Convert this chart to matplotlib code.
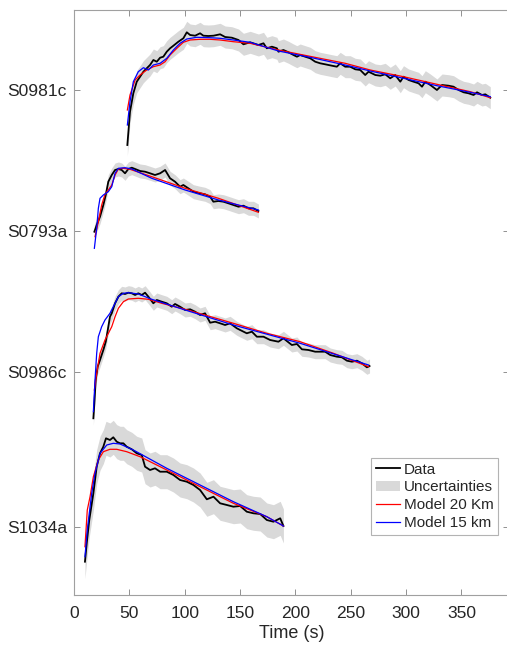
import matplotlib
matplotlib.use("Agg")
import matplotlib.pyplot as plt
from matplotlib.patches import Patch
from matplotlib.lines import Line2D
import numpy as np

plt.rcParams['font.family'] = ['Liberation Sans', 'DejaVu Sans']

stations = ["S0981c", "S0793a", "S0986c", "S1034a"]
offsets = [4.37, 2.96, 1.55, 0.0]
sigma = [0.11, 0.07, 0.07, 0.17]

# ---- S0981c ----
t_d_0981 = [48.2, 50.6, 53.6, 56.7, 59.7, 62.7, 65.7, 68.7, 71.7, 74.8, 77.8, 80.7, 83.8, 86.8, 89.8,
            94.3, 98.8, 101.9, 104.9, 109.4, 113.9, 116.9, 121.4, 126.0, 132.0, 136.5, 142.6, 148.6,
            153.1, 159.1, 166.6, 171.2, 174.2, 178.8, 183.3, 184.7, 189.2, 193.8, 198.3, 201.4, 204.3,
            208.9, 213.4, 217.9, 222.4, 226.9, 233.0, 237.5, 240.5, 245.0, 249.5, 254.1, 258.6, 263.1,
            266.1, 272.2, 276.7, 281.2, 285.7, 290.2, 294.8, 297.7, 302.3, 306.8, 311.3, 314.4, 317.4,
            321.9, 327.9, 332.5, 338.4, 342.9, 347.5, 352.0, 356.5, 361.0, 364.1, 368.6, 371.6, 376.1]
a_d_0981 = [-0.55, -0.217, -0.033, 0.083, 0.133, 0.183, 0.217, 0.25, 0.30, 0.283, 0.323, 0.333, 0.383,
            0.417, 0.443, 0.483, 0.517, 0.577, 0.55, 0.543, 0.567, 0.543, 0.54, 0.543, 0.557, 0.53,
            0.523, 0.50, 0.457, 0.477, 0.45, 0.467, 0.417, 0.433, 0.417, 0.383, 0.40, 0.377, 0.35,
            0.333, 0.35, 0.333, 0.317, 0.283, 0.267, 0.257, 0.243, 0.233, 0.267, 0.233, 0.233, 0.207,
            0.20, 0.15, 0.183, 0.15, 0.143, 0.157, 0.117, 0.15, 0.083, 0.133, 0.10, 0.083, 0.067,
            0.033, 0.083, 0.05, 0.0, 0.05, 0.043, 0.033, 0.0, -0.023, -0.033, -0.05, -0.023, -0.05,
            -0.043, -0.077]
t_r_0981 = [48.2, 50.6, 55.2, 59.7, 65.7, 71.7, 77.8, 82.3, 86.8, 92.9, 98.8, 104.9, 113.9, 123.0,
            132.0, 144.0, 159.1, 184.7, 214.9, 245.0, 267.6, 297.7, 327.9, 358.0, 376.1]
a_r_0981 = [-0.20, -0.05, 0.10, 0.15, 0.20, 0.233, 0.25, 0.283, 0.35, 0.417, 0.477, 0.50, 0.507, 0.507,
            0.50, 0.483, 0.467, 0.40, 0.333, 0.267, 0.20, 0.133, 0.057, -0.017, -0.077]
t_b_0981 = [48.2, 50.6, 53.6, 58.1, 62.7, 67.2, 71.7, 77.8, 83.8, 89.8, 95.8, 101.9, 110.9, 123.0,
            132.0, 144.0, 159.1, 184.7, 214.9, 245.0, 267.6, 297.7, 327.9, 358.0, 376.1]
a_b_0981 = [-0.35, -0.117, 0.083, 0.183, 0.223, 0.20, 0.25, 0.267, 0.317, 0.40, 0.467, 0.51, 0.527,
            0.523, 0.517, 0.50, 0.477, 0.39, 0.323, 0.25, 0.19, 0.117, 0.043, -0.023, -0.067]

# ---- S0793a ----
t_d_0793 = [18.4, 20.5, 23.5, 26.5, 28.7, 31.0, 34.1, 37.1, 40.1, 43.1, 46.1, 49.1, 52.2, 55.2, 59.7,
            64.2, 68.7, 73.2, 77.8, 82.3, 86.8, 91.3, 95.8, 98.8, 103.3, 107.9, 113.9, 118.4, 123.0,
            125.9, 130.5, 135.0, 139.5, 144.0, 148.6, 153.1, 157.6, 162.1, 166.6]
a_d_0793 = [-0.007, 0.06, 0.143, 0.26, 0.36, 0.493, 0.56, 0.61, 0.62, 0.61, 0.577, 0.62, 0.633, 0.62,
            0.60, 0.593, 0.577, 0.56, 0.577, 0.61, 0.527, 0.493, 0.443, 0.46, 0.427, 0.393, 0.377,
            0.367, 0.343, 0.293, 0.30, 0.293, 0.277, 0.26, 0.243, 0.253, 0.227, 0.227, 0.20]
t_r_0793 = [19.0, 22.0, 25.0, 28.0, 31.0, 34.1, 37.1, 40.1, 44.6, 50.6, 70.3, 100.4, 130.5, 166.6]
a_r_0793 = [-0.057, 0.093, 0.26, 0.367, 0.41, 0.46, 0.56, 0.62, 0.627, 0.617, 0.543, 0.427, 0.327, 0.187]
t_b_0793 = [18.4, 20.5, 22.0, 23.5, 26.5, 31.0, 34.1, 37.1, 40.1, 46.1, 52.2, 70.3, 100.4, 130.5, 166.6]
a_b_0793 = [-0.173, 0.027, 0.227, 0.327, 0.36, 0.393, 0.443, 0.577, 0.627, 0.633, 0.62, 0.527, 0.41,
            0.31, 0.21]

# ---- S0986c ----
t_d_0986 = [17.5, 18.4, 19.6, 21.4, 23.5, 26.5, 28.7, 30.5, 32.5, 34.1, 37.1, 40.1, 43.1, 46.1, 49.1,
            52.2, 55.2, 58.1, 61.2, 64.2, 67.2, 71.7, 74.8, 79.3, 83.8, 88.3, 91.3, 95.8, 100.4, 104.9,
            109.4, 113.9, 118.4, 123.0, 127.5, 132.0, 136.5, 141.0, 147.1, 150.1, 156.1, 160.7, 165.2,
            171.2, 177.2, 184.7, 189.2, 196.8, 201.4, 205.9, 211.8, 217.9, 226.9, 231.5, 237.5, 242.0,
            246.6, 251.1, 255.6, 260.1, 264.6, 267.0]
a_d_0986 = [-0.463, -0.313, -0.08, 0.053, 0.12, 0.22, 0.303, 0.42, 0.553, 0.587, 0.687, 0.753, 0.787,
            0.78, 0.793, 0.787, 0.77, 0.787, 0.77, 0.793, 0.753, 0.687, 0.72, 0.703, 0.687, 0.653, 0.68,
            0.653, 0.62, 0.627, 0.603, 0.57, 0.587, 0.493, 0.503, 0.487, 0.47, 0.487, 0.437, 0.42,
            0.387, 0.403, 0.353, 0.353, 0.32, 0.303, 0.337, 0.27, 0.28, 0.227, 0.22, 0.203, 0.203,
            0.17, 0.153, 0.147, 0.113, 0.103, 0.113, 0.087, 0.047, 0.06]
t_r_0986 = [18.4, 20.5, 23.5, 28.0, 34.1, 37.1, 40.1, 44.6, 49.1, 58.1, 67.2, 79.3, 100.4, 144.0,
            174.2, 204.3, 234.4, 266.1]
a_r_0986 = [-0.18, -0.013, 0.187, 0.32, 0.453, 0.553, 0.637, 0.703, 0.73, 0.737, 0.727, 0.687, 0.627,
            0.487, 0.387, 0.303, 0.187, 0.053]
t_b_0986 = [17.5, 19.0, 20.5, 22.0, 25.0, 28.0, 32.5, 37.1, 40.1, 44.6, 49.1, 58.1, 70.3, 100.4,
            144.0, 204.3, 266.1]
a_b_0986 = [-0.397, -0.08, 0.187, 0.353, 0.453, 0.52, 0.587, 0.687, 0.753, 0.787, 0.793, 0.78, 0.727,
            0.62, 0.47, 0.287, 0.07]

# ---- S1034a ----
t_d_1034 = [9.9, 11.5, 13.8, 17.5, 20.5, 23.5, 26.5, 28.9, 32.5, 35.5, 38.6, 41.6, 44.6, 47.6, 52.2,
            56.7, 61.2, 64.2, 68.7, 73.2, 77.8, 83.8, 89.8, 95.8, 101.9, 107.9, 113.9, 120.0, 126.0,
            132.0, 138.1, 144.0, 150.1, 156.1, 162.1, 168.2, 174.2, 180.2, 186.3, 189.2]
a_d_1034 = [-0.347, -0.163, 0.07, 0.337, 0.603, 0.737, 0.803, 0.887, 0.87, 0.897, 0.853, 0.837, 0.837,
            0.803, 0.777, 0.737, 0.72, 0.603, 0.57, 0.587, 0.553, 0.553, 0.52, 0.47, 0.453, 0.42,
            0.37, 0.277, 0.303, 0.237, 0.22, 0.203, 0.21, 0.153, 0.137, 0.13, 0.07, 0.053, 0.087, 0.01]
t_r_1034 = [9.9, 12.0, 14.5, 17.5, 22.0, 26.5, 32.5, 38.6, 47.6, 59.7, 83.8, 113.9, 144.0, 174.2, 189.2]
a_r_1034 = [-0.197, 0.17, 0.303, 0.503, 0.67, 0.753, 0.777, 0.777, 0.753, 0.703, 0.57, 0.403, 0.237,
            0.103, 0.01]
t_b_1034 = [9.9, 12.0, 16.0, 19.0, 23.5, 29.6, 35.5, 41.6, 53.6, 83.8, 113.9, 144.0, 174.2, 189.2]
a_b_1034 = [-0.297, -0.03, 0.337, 0.537, 0.737, 0.82, 0.837, 0.83, 0.77, 0.587, 0.42, 0.253, 0.103, 0.01]

data_t = [t_d_0981, t_d_0793, t_d_0986, t_d_1034]
data_a = [a_d_0981, a_d_0793, a_d_0986, a_d_1034]
red_t = [t_r_0981, t_r_0793, t_r_0986, t_r_1034]
red_a = [a_r_0981, a_r_0793, a_r_0986, a_r_1034]
blue_t = [t_b_0981, t_b_0793, t_b_0986, t_b_1034]
blue_a = [a_b_0981, a_b_0793, a_b_0986, a_b_1034]

W, H = 507, 645
fig = plt.figure(figsize=(W / 100, H / 100), dpi=100)
ax = fig.add_axes([74 / W, 50 / H, 435 / W, 585.5 / H])

band_color = '#d9d9d9'
for i in range(4):
    td = np.array(data_t[i]); ad = np.array(data_a[i]) + offsets[i]
    ax.fill_between(td, ad - sigma[i], ad + sigma[i], color=band_color, lw=0, zorder=1)
for i in range(4):
    td = np.array(data_t[i]); ad = np.array(data_a[i]) + offsets[i]
    ax.plot(td, ad, color='black', lw=1.3, zorder=2)
    ax.plot(red_t[i], np.array(red_a[i]) + offsets[i], color='#ff0000', lw=0.9, zorder=3)
    ax.plot(blue_t[i], np.array(blue_a[i]) + offsets[i], color='#0000ff', lw=0.9, zorder=4)

ax.set_xlim(0, 393)
ax.set_ylim(-0.68, 5.175)
ax.set_xticks([0, 50, 100, 150, 200, 250, 300, 350])
ax.set_yticks(offsets)
ax.set_yticklabels(stations)
ax.tick_params(direction='in', length=4, width=0.6, color='#808080', labelcolor='#262626',
               labelsize=12.6, top=True, right=True)
ax.tick_params(axis='x', pad=8)
ax.tick_params(axis='y', pad=5)
for s in ax.spines.values():
    s.set_color('#a0a0a0')
    s.set_linewidth(0.8)
ax.set_xlabel('Time (s)', fontsize=13, color='#262626', labelpad=3)

handles = [Line2D([], [], color='black', lw=1.3),
           Patch(facecolor=band_color, edgecolor='none'),
           Line2D([], [], color='#ff0000', lw=0.9),
           Line2D([], [], color='#0000ff', lw=0.9)]
labels = ['Data', 'Uncertainties', 'Model 20 Km', 'Model 15 km']
leg = fig.legend(handles, labels, loc='upper left', bbox_to_anchor=(371 / W, 1 - 458 / H),
                 fontsize=11, frameon=True, fancybox=False, handlelength=1.6, handletextpad=0.25,
                 labelspacing=0.25, borderpad=0.3, borderaxespad=0)
leg.get_frame().set_edgecolor('#a0a0a0')
leg.get_frame().set_linewidth(0.8)
for txt in leg.get_texts():
    txt.set_color('#262626')

fig.savefig('out.png', dpi=100)
